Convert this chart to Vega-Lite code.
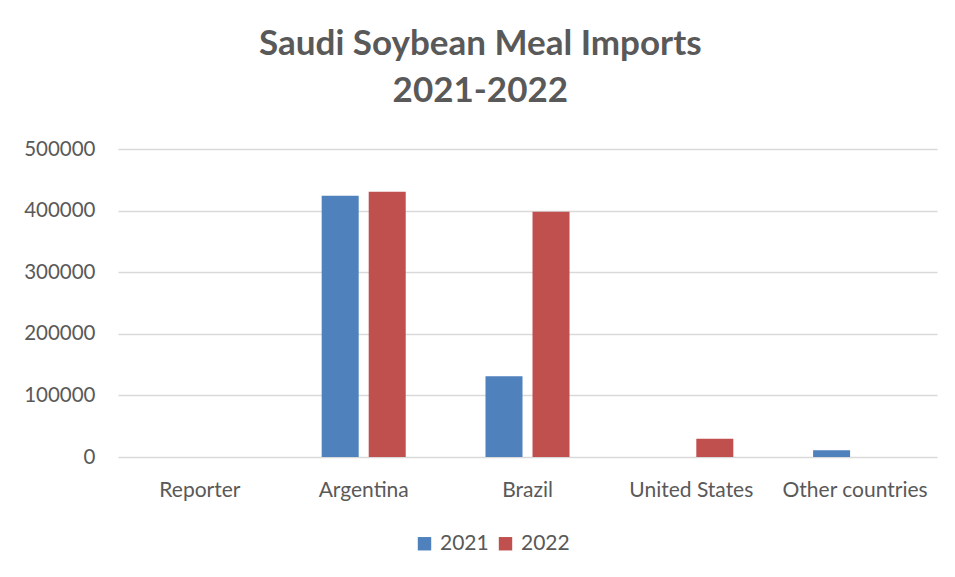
{
  "$schema": "https://vega.github.io/schema/vega-lite/v6.json",
  "width": 819,
  "height": 308,
  "padding": {"left": 23, "top": 27, "right": 18, "bottom": 10},
  "background": "white",
  "title": {
    "text": ["Saudi Soybean Meal Imports", "2021-2022"],
    "fontSize": 35,
    "fontWeight": "bold",
    "font": "Lato",
    "color": "#595959",
    "lineHeight": 47,
    "anchor": "middle",
    "frame": "bounds",
    "offset": 30
  },
  "data": {
    "values": [
      {"country": "Reporter", "year": "2021", "imports": 0},
      {"country": "Reporter", "year": "2022", "imports": 0},
      {"country": "Argentina", "year": "2021", "imports": 424300},
      {"country": "Argentina", "year": "2022", "imports": 430800},
      {"country": "Brazil", "year": "2021", "imports": 131100},
      {"country": "Brazil", "year": "2022", "imports": 398300},
      {"country": "United States", "year": "2021", "imports": 0},
      {"country": "United States", "year": "2022", "imports": 29500},
      {"country": "Other countries", "year": "2021", "imports": 11000},
      {"country": "Other countries", "year": "2022", "imports": 0}
    ]
  },
  "mark": {"type": "bar"},
  "encoding": {
    "x": {
      "field": "country",
      "type": "nominal",
      "sort": ["Reporter", "Argentina", "Brazil", "United States", "Other countries"],
      "scale": {"paddingInner": 0.487, "paddingOuter": 0.2435},
      "axis": {
        "title": null,
        "labelAngle": 0,
        "ticks": false,
        "domain": false,
        "labelPadding": 22,
        "labelFont": "Lato",
        "labelFontSize": 21,
        "labelColor": "#595959"
      }
    },
    "xOffset": {
      "field": "year",
      "type": "nominal",
      "scale": {"paddingInner": 0.213, "paddingOuter": 0}
    },
    "y": {
      "field": "imports",
      "type": "quantitative",
      "scale": {"domain": [0, 500000]},
      "axis": {
        "title": null,
        "values": [0, 100000, 200000, 300000, 400000, 500000],
        "format": "d",
        "ticks": false,
        "domain": false,
        "labelPadding": 23,
        "labelFont": "Lato",
        "labelFontSize": 20.5,
        "labelColor": "#595959",
        "gridColor": "#d9d9d9",
        "gridWidth": 1.3
      }
    },
    "color": {
      "field": "year",
      "type": "nominal",
      "scale": {"domain": ["2021", "2022"], "range": ["#4F81BD", "#C0504D"]},
      "legend": {
        "title": null,
        "orient": "none",
        "legendX": 296,
        "legendY": 384,
        "direction": "horizontal",
        "symbolType": "square",
        "symbolSize": 180,
        "symbolStrokeWidth": 0,
        "labelFont": "Lato",
        "labelFontSize": 21,
        "labelColor": "#595959",
        "labelOffset": 5,
        "columnPadding": 6
      }
    }
  },
  "config": {
    "view": {"stroke": null}
  }
}
